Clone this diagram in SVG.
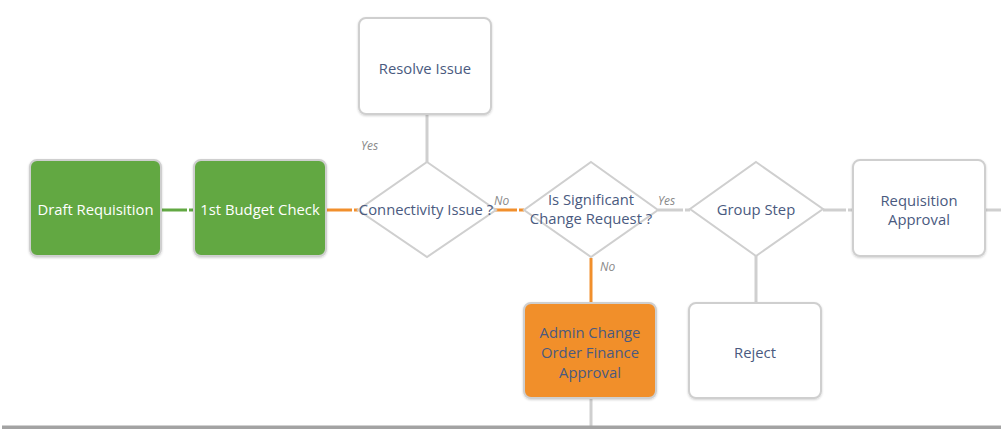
<svg xmlns="http://www.w3.org/2000/svg" width="1001" height="429" viewBox="0 0 1001 429">
<defs>
<style>
.box{stroke:#cfcfcf;stroke-width:2}
.w{fill:#fff}
.g{fill:#62a843}
.o{fill:#f18f2c}
.dia{fill:#fff;stroke:#cfcfcf;stroke-width:2}
.t{font-family:"Open Sans","DejaVu Sans",sans-serif;font-size:14.8px;fill:#4a5a80;text-anchor:middle}
.tw{fill:#ffffff}
.lbl{font-family:"Open Sans","DejaVu Sans",sans-serif;font-size:12px;font-style:italic;fill:#8a8a8a}
.cg{stroke:#62a843;stroke-width:3;fill:none}
.co{stroke:#f18f2c;stroke-width:3;fill:none}
.cy{stroke:#cfcfcf;stroke-width:3;fill:none}
</style>
<filter id="sh" x="-5%" y="-5%" width="110%" height="115%">
<feDropShadow dx="0" dy="1" stdDeviation="1" flood-color="#000" flood-opacity="0.18"/>
</filter>
</defs>
<rect width="1001" height="429" fill="#fff"/>
<g id="connectors">
<line class="cg" x1="162" y1="210" x2="187" y2="210"/>
<line class="cg" x1="189" y1="210" x2="194" y2="210"/>
<line class="co" x1="327" y1="210" x2="352" y2="210"/>
<line class="co" x1="354" y1="210" x2="358" y2="210"/>
<line class="co" x1="495" y1="210" x2="517" y2="210"/>
<line class="co" x1="519" y1="210" x2="524" y2="210"/>
<line class="cy" x1="658" y1="210" x2="683" y2="210"/>
<line class="cy" x1="685" y1="210" x2="690" y2="210"/>
<line class="cy" x1="823" y1="210" x2="846" y2="210"/>
<line class="cy" x1="848" y1="210" x2="853" y2="210"/>
<line class="cy" x1="986" y1="210" x2="1001" y2="210"/>
<line class="cy" x1="427" y1="115" x2="427" y2="162"/>
<line class="co" x1="591" y1="258" x2="591" y2="303"/>
<line class="cy" x1="756" y1="256" x2="756" y2="303"/>
<line class="cy" x1="591" y1="398" x2="591" y2="426"/>
<text class="lbl" x="361" y="150">Yes</text>
<text class="lbl" x="494" y="205">No</text>
<text class="lbl" x="658" y="205">Yes</text>
<text class="lbl" x="600" y="271">No</text>
</g>
<g id="draft-requisition">
<rect class="box g" x="30" y="160" width="131" height="96" rx="7" filter="url(#sh)"/>
<text class="t tw" x="95.5" y="215">Draft Requisition</text>
</g>
<g id="budget-check">
<rect class="box g" x="194" y="160" width="132" height="96" rx="7" filter="url(#sh)"/>
<text class="t tw" x="260" y="215">1st Budget Check</text>
</g>
<g id="resolve-issue">
<rect class="box w" x="359" y="18" width="132" height="96" rx="7" filter="url(#sh)"/>
<text class="t" x="425" y="74">Resolve Issue</text>
</g>
<g id="connectivity-issue">
<polygon class="dia" points="427,162 496,210 427,257 358,210"/>
<text class="t" x="426" y="215">Connectivity Issue ?</text>
</g>
<g id="significant-change">
<polygon class="dia" points="591,162 658,210 591,257 524,210"/>
<text class="t" x="591" y="205">Is Significant</text>
<text class="t" x="591" y="224">Change Request ?</text>
</g>
<g id="group-step">
<polygon class="dia" points="756,162 823,209 756,256 690,209"/>
<text class="t" x="756" y="215">Group Step</text>
</g>
<g id="requisition-approval">
<rect class="box w" x="853" y="160" width="132" height="96" rx="7" filter="url(#sh)"/>
<text class="t" x="919" y="206">Requisition</text>
<text class="t" x="919" y="225">Approval</text>
</g>
<g id="admin-change">
<rect class="box o" x="524" y="303" width="132" height="95" rx="7" filter="url(#sh)"/>
<text class="t" x="590" y="338">Admin Change</text>
<text class="t" x="590" y="358">Order Finance</text>
<text class="t" x="590" y="378">Approval</text>
</g>
<g id="reject">
<rect class="box w" x="689" y="303" width="132" height="95" rx="7" filter="url(#sh)"/>
<text class="t" x="755" y="358">Reject</text>
</g>
<rect x="2" y="425.5" width="999" height="4" fill="#a3a3a3"/>
</svg>
